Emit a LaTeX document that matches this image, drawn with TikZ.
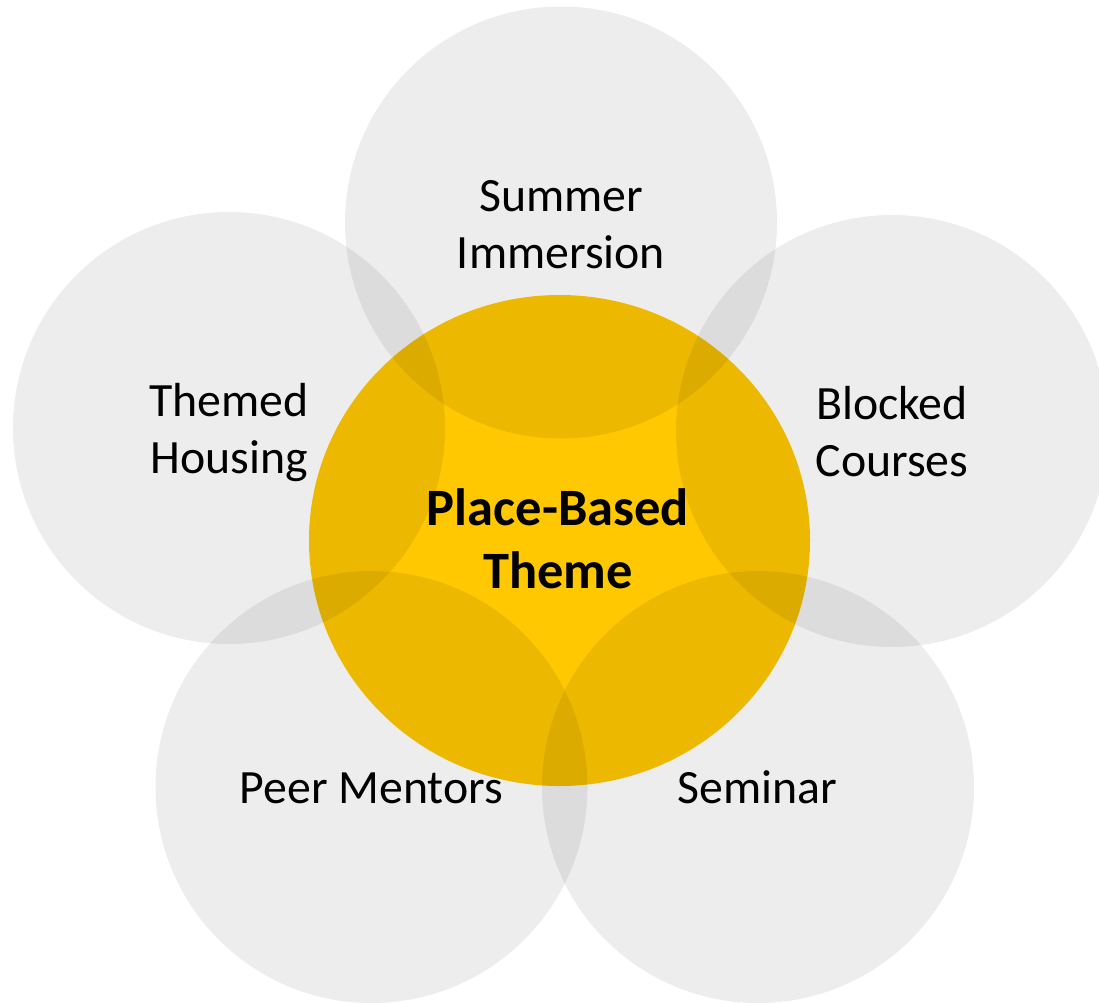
\documentclass[tikz,border=0pt]{standalone}
\usepackage{fontspec}
\setmainfont{Carlito}
\usetikzlibrary{shapes.geometric}
\begin{document}
\begin{tikzpicture}[x=1pt,y=-1pt,
  sat/.style={circle, minimum size=432pt, inner sep=0pt, fill=black, fill opacity=0.072, draw=none},
  lbl/.style={font=\fontsize{47.8}{57}\selectfont, align=center, inner sep=0pt, anchor=base, text=black},
  hub/.style={font=\fontsize{52.5}{63}\selectfont\bfseries, align=center, inner sep=0pt, anchor=base, text=black}
]
\useasboundingbox (0,0) rectangle (1099,1002);
\fill[white] (0,0) rectangle (1099,1002);
\clip (0,0) rectangle (1099,1002);
\definecolor{hubyellow}{HTML}{FFC800}
\node[ellipse, minimum width=501pt, minimum height=491pt, inner sep=0pt, fill=hubyellow, draw=none] (center) at (559.5,540.5) {};
\node[sat] (c1) at (561,222.5) {};
\node[sat] (c2) at (229,428) {};
\node[sat] (c3) at (892,431) {};
\node[sat] (c4) at (371.5,787) {};
\node[sat] (c5) at (758,787) {};
\node[lbl] (t1) at (561,268) {Summer\\Immersion};
\node[lbl] (t2) at (229,473) {Themed\\Housing};
\node[lbl] (t3) at (892,476) {Blocked\\Courses};
\node[lbl] (t4) at (371.5,803) {Peer Mentors};
\node[lbl] (t5) at (757.5,803) {Seminar};
\node[hub] (t0) at (558,588) {Place-Based\\Theme};
\end{tikzpicture}
\end{document}
